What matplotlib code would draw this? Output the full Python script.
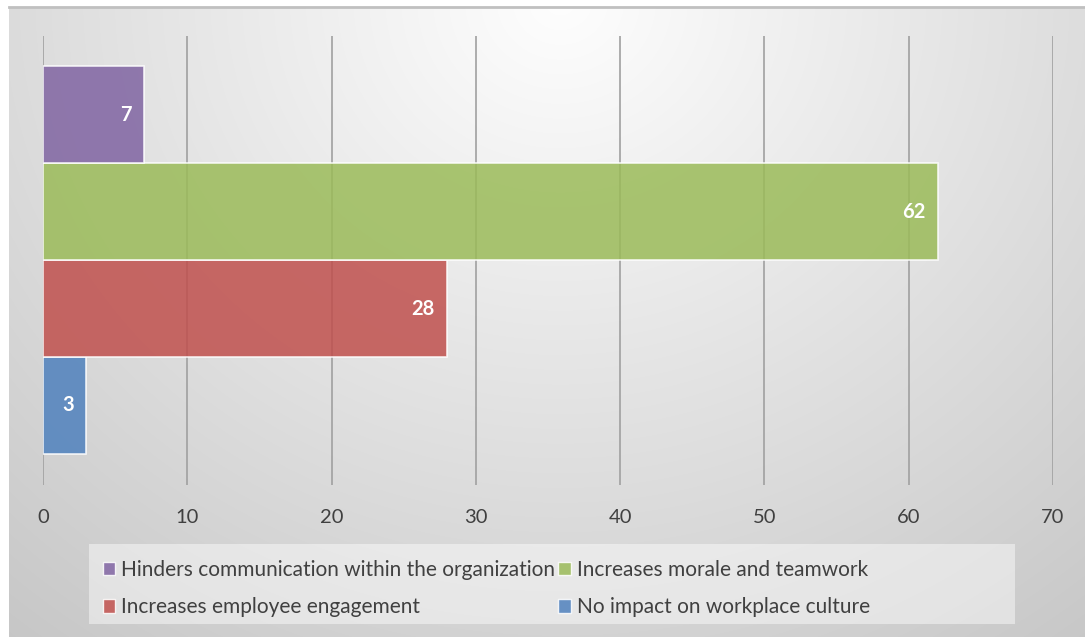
import numpy as np
import matplotlib
matplotlib.use("Agg")
import matplotlib.pyplot as plt
from matplotlib.patches import Rectangle, Patch

# survey answers, bottom bar first
labels = ["No impact on workplace culture",
          "Increases employee engagement",
          "Increases morale and teamwork",
          "Hinders communication within the organization"]
counts = [3, 28, 62, 7]
colors = ["#4F81BD", "#C0504D", "#9BBB59", "#8064A2"]
xticks = [0, 10, 20, 30, 40, 50, 60, 70]

W, H = 1085, 637
plt.rcParams['font.family'] = ['Lato', 'DejaVu Sans']

fig = plt.figure(figsize=(W / 100, H / 100), dpi=100)
fig.patch.set_facecolor("white")

# radial grey backdrop of the chart area
bx0, by0 = 9, 7
bg = fig.add_axes([bx0 / W, 0, 1 - bx0 / W, (H - by0) / H], zorder=0)
gx, gy = np.meshgrid(np.arange(bx0, W), np.arange(by0, H))
d = np.sqrt(((gx - 560) / 700.0) ** 2 + (gy / 650.0) ** 2)
g = np.clip(254 - 44 * d, 196, 254) / 255.0
bg.imshow(np.dstack([g, g, g]), aspect="auto", extent=(0, 1, 0, 1), interpolation="bilinear")
bg.set_xlim(0, 1)
bg.set_ylim(0, 1)
bg.axis("off")
fig.add_artist(plt.Line2D([bx0 / W, 1], [1 - by0 / H, 1 - by0 / H], transform=fig.transFigure,
                          color="#c0c0c0", lw=2, zorder=1))

ax = fig.add_axes([43 / W, 1 - 485 / H, (1053 - 43) / W, (485 - 36) / H], zorder=2)
ax.patch.set_alpha(0)

pos = np.arange(len(counts))
bars = ax.barh(pos, counts, height=1.0, color=colors, alpha=0.85,
               edgecolor=(1, 1, 1, 0.6), linewidth=1.2, zorder=3)
for b, v in zip(bars, counts):
    ax.annotate(str(v), (v, b.get_y() + b.get_height() / 2), xytext=(-9, 0),
                textcoords="offset points", ha="right", va="center",
                color="white", fontsize=14.5, fontweight="bold", zorder=4)

ax.set_xlim(0, 70)
ax.set_ylim(-0.82, 3.81)
ax.set_xticks(xticks)
ax.set_yticks([])
ax.grid(axis="x", color="#a0a0a0", linewidth=1.2, zorder=1)
for s in ax.spines.values():
    s.set_visible(False)
ax.tick_params(axis="x", length=0, pad=17, labelsize=14.5, labelcolor="#404040")

# legend panel
fig.add_artist(Rectangle((89 / W, 1 - 624 / H), (1015 - 89) / W, (624 - 544) / H,
                         transform=fig.transFigure, facecolor="white", alpha=0.45,
                         edgecolor="none", zorder=2))
order = [3, 1, 2, 0]
handles = [Patch(facecolor=colors[i], alpha=0.85, edgecolor=(1, 1, 1, 0.6)) for i in order]
fig.legend(handles, [labels[i] for i in order], ncol=2, frameon=False,
           loc="upper left", bbox_to_anchor=(88 / W, 1 - 545 / H),
           fontsize=15, labelcolor="#404040", handlelength=0.6, handleheight=0.6,
           handletextpad=0.3, columnspacing=0.15, labelspacing=0.85, borderpad=0.2)

fig.savefig("out.png", dpi=100)
